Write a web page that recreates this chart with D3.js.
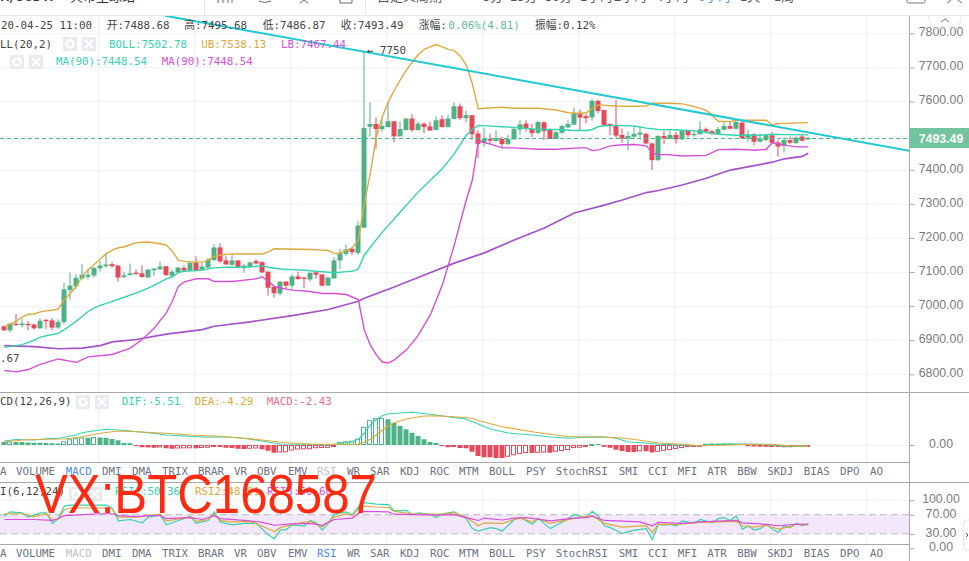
<!DOCTYPE html>
<html>
<head>
<meta charset="utf-8">
<script src="https://cdn.jsdelivr.net/npm/d3@7"></script>
<style>
  html, body { margin: 0; padding: 0; background: #fff; overflow: hidden; }
  svg { display: block; }
  .mono { font-family: "DejaVu Sans Mono", monospace, "Noto Sans CJK SC"; font-size: 10.8px; }
  .axis text { font-family: "Liberation Sans", Arial, sans-serif; font-size: 12.3px; fill: #7b7b7b; }
  .axis path, .axis line { stroke: #a8a8a8; }
</style>
</head>
<body>
<svg id="chart" width="969" height="561"></svg>
<script>
// ###################################
//  Data
// ###################################

var opens = [
  6941,6929,6948,6944,6948,6946,6935,6960,6958,6937,
  6953,7047,7058,7081,7086,7090,7111,7117,7123,7119,
  7085,7091,7098,7096,7084,7105,7108,7117,7089,7099,
  7112,7104,7127,7105,7113,7135,7172,7134,7121,7134,
  7111,7115,7132,7129,7101,7056,7037,7072,7060,7087,
  7084,7078,7099,7093,7060,7081,7134,7153,7168,7156,
  7230,7526,7534,7519,7525,7542,7498,7516,7550,7516,
  7535,7527,7516,7548,7525,7549,7586,7551,7560,7506,
  7479,7490,7484,7490,7475,7489,7518,7535,7520,7508,
  7539,7518,7490,7508,7524,7532,7563,7557,7553,7602,
  7575,7534,7528,7502,7492,7497,7503,7505,7477,7428,
  7499,7491,7502,7489,7514,7501,7504,7519,7513,7505,
  7517,7528,7520,7538,7492,7504,7482,7487,7501,7480,
  7470,7487,7478,7497,7488.68
];
var closes = [
  6929,6949,6944,6949,6944,6935,6957,6956,6937,6954,
  7049,7060,7083,7092,7092,7112,7119,7122,7117,7084,
  7090,7096,7094,7085,7107,7110,7116,7091,7101,7113,
  7104,7127,7104,7116,7136,7172,7131,7122,7134,7113,
  7119,7128,7125,7099,7054,7038,7072,7060,7087,7079,
  7080,7098,7092,7060,7084,7134,7155,7166,7158,7236,
  7522,7534,7519,7528,7542,7498,7519,7550,7516,7535,
  7525,7515,7545,7525,7550,7586,7551,7560,7504,7475,
  7490,7485,7492,7475,7490,7520,7533,7521,7507,7540,
  7513,7490,7510,7528,7534,7565,7553,7551,7602,7572,
  7531,7528,7500,7492,7499,7505,7509,7477,7428,7499,
  7492,7502,7489,7514,7501,7505,7518,7512,7506,7519,
  7528,7520,7540,7492,7504,7482,7492,7501,7479,7468,
  7487,7479,7494,7485,7493.49
];
var highs = [
  6943,6949,6977,6963,6956,6949,6964,6961,6965,6961,
  7068,7099,7093,7123,7109,7114,7132,7156,7129,7119,
  7101,7125,7107,7120,7109,7111,7131,7117,7107,7115,
  7119,7129,7146,7127,7141,7182,7184,7146,7151,7135,
  7123,7131,7137,7131,7102,7058,7073,7072,7093,7101,
  7085,7098,7101,7093,7086,7144,7168,7181,7172,7249,
  7750,7598,7553,7547,7598,7542,7541,7550,7563,7541,
  7538,7541,7557,7559,7560,7598,7594,7573,7560,7516,
  7524,7506,7516,7496,7502,7524,7545,7545,7535,7542,
  7542,7521,7514,7531,7545,7582,7577,7563,7607,7605,
  7575,7536,7604,7521,7512,7526,7526,7509,7479,7501,
  7514,7518,7512,7516,7515,7513,7542,7524,7516,7526,
  7541,7541,7544,7542,7518,7507,7507,7505,7511,7487,
  7495,7497,7497,7502,7495.68
];
var lows = [
  6927,6923,6943,6939,6929,6931,6933,6933,6929,6933,
  6946,7019,7051,7078,7078,7084,7101,7113,7113,7072,
  7082,7090,7092,7084,7082,7088,7107,7088,7088,7096,
  7101,7102,7102,7103,7111,7133,7127,7122,7119,7111,
  7098,7112,7122,7096,7031,7025,7031,7053,7049,7078,
  7053,7072,7080,7058,7060,7081,7109,7148,7150,7151,
  7228,7498,7462,7511,7524,7481,7498,7516,7511,7516,
  7508,7514,7516,7524,7524,7548,7545,7539,7487,7434,
  7467,7472,7484,7463,7473,7489,7502,7512,7496,7504,
  7487,7490,7490,7506,7521,7532,7516,7536,7544,7565,
  7528,7501,7493,7479,7456,7489,7489,7475,7399,7426,
  7475,7489,7477,7487,7495,7497,7503,7509,7502,7503,
  7515,7518,7518,7491,7482,7471,7481,7483,7477,7438,
  7450,7475,7475,7483,7486.87
];

// [candle index, value]
var bollUpper = [[0,6939],[2,6956],[3,6968],[4,6976],[5,6977],[6,6983],[7,6986],[8,6988],[9,6992],[10,7019],[11,7037],[12,7058],[13,7088],[14,7107],[15,7122],[16,7139],[17,7154],[18,7164],[19,7171],[20,7174],[21,7180],[22,7186],[24,7188],[26,7183],[27,7179],[28,7161],[29,7135],[30,7131],[32,7129],[33,7129],[34,7135],[35,7146],[36,7150],[38,7153],[43,7153],[44,7159],[45,7168],[51,7166],[53,7164],[54,7163],[55,7154],[56,7156],[57,7164],[58,7171],[59,7193],[60,7300],[61,7390],[62,7496],[63,7555],[64,7599],[65,7633],[66,7663],[67,7692],[68,7716],[69,7738],[70,7753],[71,7760],[72,7767],[73,7760],[74,7753],[75,7749],[76,7733],[77,7707],[78,7653],[79,7578],[80,7580],[83,7583],[85,7580],[89,7580],[92,7575],[94,7567],[96,7565],[97,7567],[98,7580],[99,7590],[102,7587],[105,7586],[107,7587],[108,7595],[111,7595],[113,7593],[115,7585],[116,7580],[117,7574],[118,7560],[119,7542],[121,7541],[122,7545],[127,7545],[128,7531],[129,7535],[134,7538]];
var bollMid = [[0,6879],[3,6887],[5,6900],[6,6909],[7,6913],[9,6920],[10,6931],[11,6943],[12,6956],[13,6970],[14,6985],[15,6995],[16,7002],[18,7014],[20,7026],[22,7039],[24,7053],[26,7070],[27,7080],[28,7086],[29,7098],[30,7102],[32,7104],[34,7109],[35,7112],[37,7114],[40,7114],[43,7118],[44,7114],[46,7109],[48,7107],[50,7105],[52,7102],[55,7098],[57,7101],[58,7102],[59,7109],[60,7150],[63,7217],[66,7276],[69,7335],[71,7369],[73,7403],[75,7447],[77,7501],[78,7518],[79,7530],[83,7526],[85,7524],[89,7518],[92,7518],[95,7515],[97,7515],[98,7518],[99,7526],[100,7529],[102,7530],[105,7528],[107,7522],[109,7518],[112,7517],[115,7514],[117,7509],[119,7504],[122,7501],[126,7501],[128,7504],[130,7503],[134,7502]];
var bollLower = [[0,6811],[2,6807],[4,6814],[6,6829],[9,6845],[12,6835],[14,6851],[18,6858],[21,6877],[23,6902],[25,6936],[27,6980],[28,7014],[29,7058],[30,7071],[32,7080],[34,7080],[35,7072],[38,7072],[42,7080],[43,7086],[45,7058],[46,7053],[48,7047],[51,7043],[53,7037],[55,7037],[57,7034],[59,7019],[60,6930],[61,6886],[62,6857],[63,6836],[64,6833],[65,6842],[66,6857],[67,6871],[68,6892],[69,6915],[70,6945],[71,6974],[72,7018],[73,7062],[74,7120],[75,7179],[76,7246],[77,7311],[78,7369],[79,7484],[81,7475],[83,7464],[85,7464],[89,7460],[92,7460],[96,7464],[97,7464],[98,7456],[99,7458],[101,7470],[103,7473],[105,7474],[107,7470],[108,7450],[109,7443],[110,7445],[113,7440],[117,7442],[119,7459],[122,7460],[125,7457],[127,7460],[128,7479],[130,7472],[132,7467],[134,7467]];
var ma90 = [[0,6884],[5,6881],[9,6875],[13,6877],[16,6884],[18,6895],[22,6902],[27,6918],[33,6931],[35,6941],[41,6954],[48,6972],[54,6990],[59,7014],[60,7023],[65,7056],[70,7091],[75,7126],[80,7156],[85,7194],[90,7229],[95,7273],[100,7296],[103,7311],[107,7333],[109,7339],[113,7355],[117,7375],[121,7399],[125,7412],[128,7422],[130,7432],[133,7439],[134,7448]];
var trendLine = [[26.78,7851.6],[150.8,7455.7]];

var macdHist = [
  12,14,12,12,10,9,9,8,7,6,
  15,23,27,30,29,32,30,29,24,19,
  8,7,-3,-9,-9.5,-11,-10,-13,-15,-14,
  -13.5,-13,-13.2,-12,-11,-8,-8,-11,-12,-15,
  -16,-15,-14,-17,-23,-31,-30,-29,-22,-18,
  -17.5,-17,-13,-12,-11.5,-1,12,15,17,25,
  73,99,107,108,103,89,76,63,49,36,
  23,12,8,-4,-9,-8,-12,-13,-27,-44,
  -49,-49,-52,-52,-47,-41,-36,-32,-32,-31,
  -30,-31,-27,-24,-20,-12,-11,-7,3,3,
  -7,-11,-19,-24,-28,-28,-25,-25,-30,-27,
  -23,-20,-16,-12,-8,-7,-4,5,6,6,
  6,6,5,4,-5,-6,-7,-7,-5,-8,
  -9,-9,-4,-3,-2.43
];
var macdDif = [[0,16],[2,22],[5,20],[7,25],[9,27],[10,31],[11,36],[12,41],[13,49],[14,53],[15,57],[16,60],[17,63],[19,60],[21,56],[24,49],[27,40],[30,36],[34,31],[36,33],[40,27],[43,16],[46,4],[50,3],[54,0],[56,5],[58,13],[59,23],[60,47],[61,80],[62,103],[63,117],[64,125],[66,128],[68,131],[71,123],[74,113],[77,103],[79,84],[81,64],[84,48],[88,40],[91,32],[94,27],[97,31],[100,32],[102,27],[104,12],[107,8],[109,3],[113,0],[116,-3],[120,4],[124,4],[127,1],[130,-5],[134,-5.51]];
var macdDea = [[0,13],[3,20],[7,23],[10,24],[13,33],[16,47],[19,56],[22,53],[27,47],[31,40],[35,36],[39,29],[43,20],[47,9],[51,3],[56,3],[59,4],[60,11],[61,23],[62,40],[63,60],[64,76],[65,89],[67,104],[70,116],[72,117],[75,113],[78,107],[79,98],[83,73],[88,53],[91,43],[94,33],[99,33],[103,28],[106,19],[109,8],[113,3],[116,-3],[120,-1],[124,3],[128,3],[131,-4],[134,-4.29]];

var rsi1 = [[0,67],[1,76],[3,74],[4,65],[6,74],[7,74],[8,52],[9,62],[10,88],[11,90],[14,90],[17,90],[18,83],[19,57],[21,60],[23,53],[24,65],[26,69],[27,49],[30,62],[31,67],[32,52],[34,58],[35,76],[36,55],[38,49],[40,52],[42,52],[44,28],[45,20],[46,38],[47,39],[48,49],[50,46],[51,58],[52,53],[53,38],[54,52],[55,71],[57,76],[58,70],[59,86],[60,95],[62,92],[64,91],[65,78],[67,79],[68,70],[69,74],[71,71],[72,64],[73,72],[75,76],[77,62],[78,41],[79,36],[81,43],[82,41],[83,36],[85,60],[86,64],[88,50],[89,62],[91,41],[93,55],[95,70],[97,64],[98,77],[99,67],[100,47],[101,43],[103,31],[105,38],[107,41],[108,18],[109,50],[110,48],[111,50],[112,47],[113,57],[115,52],[116,60],[118,53],[119,62],[120,64],[121,58],[122,68],[123,40],[124,46],[125,38],[126,41],[127,50],[128,40],[129,33],[130,47],[131,43],[132,52],[133,47],[134,50.36]];
var rsi2 = [[0,72],[3,72],[5,66],[7,72],[8,59],[9,60],[10,80],[11,84],[14,84],[17,84],[18,82],[19,65],[22,65],[24,68],[26,71],[27,57],[30,63],[31,66],[32,56],[34,60],[35,72],[36,58],[38,55],[41,56],[43,46],[45,35],[46,43],[48,50],[51,56],[53,45],[55,65],[57,72],[58,68],[59,82],[60,88],[62,86],[64,85],[65,77],[68,72],[71,71],[73,71],[75,74],[77,65],[79,47],[80,53],[83,52],[85,60],[86,63],[88,55],[89,62],[91,52],[93,57],[96,65],[98,68],[100,52],[103,44],[107,47],[108,33],[109,50],[112,50],[116,54],[122,56],[123,47],[125,44],[127,48],[129,40],[131,45],[132,50],[134,48.91]];
var rsi3 = [[0,60],[5,60],[8,58],[9,62],[10,68],[13,70],[16,72],[18,72],[19,68],[22,66],[24,68],[26,68],[27,62],[31,64],[33,60],[35,68],[36,62],[40,58],[43,54],[45,48],[48,51],[51,52],[53,48],[55,60],[58,63],[59,72],[60,77],[64,76],[65,71],[68,70],[72,69],[75,70],[77,64],[79,58],[80,63],[83,59],[85,63],[87,64],[91,57],[95,63],[97,64],[98,67],[100,58],[102,57],[106,55],[108,47],[109,54],[113,52],[116,55],[122,58],[123,53],[127,50],[129,47],[132,50],[134,50.6]];

var priceTicks = [7800,7700,7600,7500,7400,7300,7200,7100,7000,6900,6800];
var macdTicks = [0];
var rsiTicks = [100,70,30,0];
var gridCandles = [16,32,48,64,80,96,112,128,144];
var lastPrice = 7493.49;

var tabNames = ["A","VOLUME","MACD","DMI","DMA","TRIX","BRAR","VR","OBV","EMV","RSI","WR","SAR","KDJ","ROC","MTM","BOLL","PSY","StochRSI","SMI","CCI","MFI","ATR","BBW","SKDJ","BIAS","DPO","AO"];
var tabLefts = [0,16,65.7,102,132,162,198,234,257,288,317,347,370,400,430,459,489,526,555.7,618.7,648,677.7,707.3,737.3,767.3,803.7,840,870];

// ###################################
//  Colors
// ###################################

var UP = "#4fb286", DOWN = "#e5495a";
var TEAL = "#34d3b0", GOLD = "#dcaa3c", PINK = "#d64fd8", PURPLE = "#a352c8", CYAN = "#22c9cf";
var BORDER = "#a8a8a8", GRID = "#f0f3f8";

// ###################################
//  Scales
// ###################################

var svg = d3.select("#chart");
var x = d3.scaleLinear().domain([0, 134]).range([4.3, 808.3]);
var yPrice = d3.scaleLinear().domain([7800, 6800]).range([33.3, 374.3]);
var yMacd = d3.scaleLinear().domain([0, 100]).range([445, 420]);
var yRsi = d3.scaleLinear().domain([100, 0]).range([500.3, 548.3]);

function clip(id, top, bottom) {
  svg.append("clipPath").attr("id", id).append("rect")
    .attr("x", 0).attr("y", top).attr("width", 909).attr("height", bottom - top);
}
clip("clipMain", 16, 392);
clip("clipMacd", 392, 462);
clip("clipRsi", 483, 544);

function drawLine(parent, points, yScale, color, width) {
  var line = d3.line().x(function(d) { return x(d[0]); }).y(function(d) { return yScale(d[1]); });
  parent.append("path").attr("d", line(points)).attr("fill", "none")
    .attr("stroke", color).attr("stroke-width", width || 1.4);
}

// ###################################
//  Grid
// ###################################

var grid = svg.append("g");
[[16, 392], [392, 462], [483, 544]].forEach(function(band) {
  grid.selectAll(null).data(gridCandles).enter().append("line")
    .attr("x1", function(d) { return Math.round(x(d)) - 1.5; })
    .attr("x2", function(d) { return Math.round(x(d)) - 1.5; })
    .attr("y1", band[0]).attr("y2", band[1]).attr("stroke", GRID);
});
function hGrid(ticks, scale) {
  grid.selectAll(null).data(ticks).enter().append("line")
    .attr("x1", 0).attr("x2", 909)
    .attr("y1", function(d) { return Math.round(scale(d)) + 0.5; })
    .attr("y2", function(d) { return Math.round(scale(d)) + 0.5; })
    .attr("stroke", GRID);
}
hGrid(priceTicks, yPrice);
hGrid(macdTicks, yMacd);
hGrid([100], yRsi);

// ###################################
//  Main panel
// ###################################

var main = svg.append("g").attr("clip-path", "url(#clipMain)");

var candles = main.selectAll("g.candle").data(opens).enter().append("g")
  .attr("fill", function(d, i) { return closes[i] >= d ? UP : DOWN; });
candles.append("rect")
  .attr("x", function(d, i) { return Math.round(x(i)) - 0.5; })
  .attr("width", 1)
  .attr("y", function(d, i) { return yPrice(highs[i]); })
  .attr("height", function(d, i) { return yPrice(lows[i]) - yPrice(highs[i]); });
candles.append("rect")
  .attr("x", function(d, i) { return Math.round(x(i)) - 2.5; })
  .attr("width", 5)
  .attr("y", function(d, i) { return yPrice(Math.max(d, closes[i])); })
  .attr("height", function(d, i) { return Math.max(1, Math.abs(yPrice(d) - yPrice(closes[i]))); });

drawLine(main, ma90, yPrice, PURPLE, 1.7);
drawLine(main, bollUpper, yPrice, GOLD);
drawLine(main, bollMid, yPrice, TEAL);
drawLine(main, bollLower, yPrice, PINK);

main.append("line").attr("x1", 0).attr("x2", 909)
  .attr("y1", Math.round(yPrice(lastPrice)) + 0.5).attr("y2", Math.round(yPrice(lastPrice)) + 0.5)
  .attr("stroke", "#3ab98a").attr("stroke-dasharray", "4,3");

// ###################################
//  MACD panel
// ###################################

var macd = svg.append("g").attr("clip-path", "url(#clipMacd)");
macd.selectAll("rect").data(macdHist).enter().append("rect")
  .each(function(d, i) {
    var color = d >= 0 ? UP : DOWN;
    var hollow = i > 0 && d > macdHist[i - 1];
    var h = Math.max(1, Math.abs(yMacd(d) - yMacd(0)));
    d3.select(this)
      .attr("x", Math.round(x(i)) - 2.5)
      .attr("width", hollow ? 4 : 5)
      .attr("y", (d >= 0 ? yMacd(0) - h : yMacd(0)) + (hollow ? 0.5 : 0))
      .attr("height", hollow ? Math.max(h - 1, 1) : h)
      .attr("fill", hollow ? "#fff" : color)
      .attr("stroke", hollow ? color : "none");
  });
drawLine(macd, macdDif, yMacd, TEAL, 1.2);
drawLine(macd, macdDea, yMacd, GOLD, 1.2);

// ###################################
//  RSI panel
// ###################################

var rsi = svg.append("g").attr("clip-path", "url(#clipRsi)");
rsi.append("rect").attr("x", 0).attr("width", 909)
  .attr("y", yRsi(70)).attr("height", yRsi(30) - yRsi(70)).attr("fill", "#f3e7fc");
[70, 30].forEach(function(level) {
  rsi.append("line").attr("x1", 0).attr("x2", 909)
    .attr("y1", yRsi(level)).attr("y2", yRsi(level))
    .attr("stroke", "#c9c5cc").attr("stroke-width", 1.2).attr("stroke-dasharray", "7,4");
});
drawLine(rsi, rsi1, yRsi, TEAL, 1.2);
drawLine(rsi, rsi2, yRsi, GOLD, 1.2);
drawLine(rsi, rsi3, yRsi, PINK, 1.2);

// ###################################
//  Frame and axes
// ###################################

[[392.5, 969], [462.5, 909], [482.5, 969], [544.5, 909]].forEach(function(row) {
  svg.append("line").attr("x1", 0).attr("x2", row[1]).attr("y1", row[0]).attr("y2", row[0])
    .attr("stroke", BORDER);
});
svg.append("line").attr("x1", 909.5).attr("x2", 909.5).attr("y1", 16).attr("y2", 561).attr("stroke", BORDER);

function drawAxis(scale, ticks) {
  var g = svg.append("g").attr("class", "axis").attr("transform", "translate(909.5,0)")
    .call(d3.axisRight(scale).tickValues(ticks).tickSize(5).tickFormat(d3.format(".2f")));
  g.select(".domain").remove();
  g.selectAll("text").attr("x", 31.5).attr("y", -1.5).attr("text-anchor", "middle");
}
drawAxis(yPrice, priceTicks);
drawAxis(yMacd, macdTicks);
drawAxis(yRsi, rsiTicks);

svg.append("rect").attr("x", 909).attr("y", 128).attr("width", 60).attr("height", 20).attr("fill", "#71c49e");
svg.append("text").attr("x", 941).attr("y", 142.5).attr("text-anchor", "middle")
  .attr("font-family", "Liberation Sans, Arial, sans-serif").attr("font-size", 12.3).attr("font-weight", "bold")
  .attr("fill", "#fff").text(lastPrice.toFixed(2));

// scroll handles on the price axis and the RSI panel
svg.append("path").attr("d", "M928,16 L931,26 Q931.5,27 933,27 L957,27 Q958.5,27 959,26 L962,16")
  .attr("fill", "#fff").attr("stroke", "#e6e6e6");
svg.append("path").attr("d", "M941,22 L945,19 L949,22").attr("fill", "none").attr("stroke", "#777");
svg.append("rect").attr("x", 963.5).attr("y", 520).attr("width", 12).attr("height", 30).attr("rx", 4)
  .attr("fill", "#fff").attr("stroke", "#e6e6e6");
svg.append("path").attr("d", "M966,533 L968,535 L966,537").attr("fill", "none").attr("stroke", "#555");

// ###################################
//  Texts
// ###################################

function label(left, base, str, color) {
  return svg.append("text").attr("class", "mono").attr("x", left).attr("y", base)
    .attr("fill", color || "#444").text(str);
}

function iconPair(left1, left2, top) {
  var s = 14;
  svg.append("rect").attr("x", left1).attr("y", top).attr("width", s).attr("height", s).attr("fill", "#e9ebf0");
  svg.append("circle").attr("cx", left1 + 7).attr("cy", top + 7).attr("r", 3.6)
    .attr("fill", "none").attr("stroke", "#fff").attr("stroke-width", 2.4);
  svg.append("rect").attr("x", left2).attr("y", top).attr("width", s).attr("height", s).attr("fill", "#e9ebf0");
  svg.append("path").attr("d", "M" + (left2 + 3) + "," + (top + 3) + " l8,8 m0,-8 l-8,8")
    .attr("stroke", "#fff").attr("stroke-width", 1.8);
}

label(1, 29, "20-04-25 11:00");
label(106.7, 29, "开:7488.68");
label(184.3, 29, "高:7495.68");
label(262.7, 29, "低:7486.87");
label(340.7, 29, "收:7493.49");
label(418.7, 29, "涨幅:");
label(448.3, 29, "0.06%(4.81)", "#5dbb92");
label(535, 29, "振幅:0.12%");

label(0, 47.5, "LL(20,2)");
iconPair(63, 82, 37);
label(109, 47.5, "BOLL:7502.78", TEAL);
label(201.3, 47.5, "UB:7538.13", GOLD);
label(281, 47.5, "LB:7467.44", PINK);

iconPair(10, 29, 55);
label(56, 65, "MA(90):7448.54", TEAL);
label(161.7, 65, "MA(90):7448.54", PINK);

label(367, 54, "← 7750").attr("font-size", 11);
label(0, 362, ".67");

label(0, 405, "CD(12,26,9)");
iconPair(76, 95, 395);
label(121.7, 405, "DIF:-5.51", TEAL);
label(194.7, 405, "DEA:-4.29", GOLD);
label(266.7, 405, "MACD:-2.43", "#e8707e");

label(0, 495, "I(6,12,24)");
iconPair(69, 88, 487);
label(115, 495, "RSI1:50.36", TEAL);
label(195, 495, "RSI2:48.91", GOLD);
label(267, 495, "RSI3:50.60", PINK);

function tabRow(base, activeName, dimName) {
  tabNames.forEach(function(name, i) {
    var color = name === activeName ? "#4a90e8" : name === dimName ? "#c2c2c2" : "#6b7280";
    label(tabLefts[i], base, name, color);
  });
}
tabRow(475, "MACD", "RSI");
tabRow(556.5, "RSI", "MACD");

// top toolbar, cut off by the edge of the picture
svg.append("line").attr("x1", 0).attr("x2", 969).attr("y1", 15.5).attr("y2", 15.5).attr("stroke", "#e4e6ea");
[204.5, 365.5].forEach(function(left) {
  svg.append("line").attr("x1", left).attr("x2", left).attr("y1", 0).attr("y2", 15).attr("stroke", "#e4e6ea");
});
var topLabels = [[0, "H/USDT:", "#333", "bold"], [70, "火币全球站", "#333", "normal"], [377, "自定义周期", "#555", "normal"], [483, "5分", "#555", "normal"], [510, "15分", "#555", "normal"], [545, "30分", "#555", "normal"], [580, "1小时", "#555", "normal"], [614, "2小时", "#555", "normal"], [656, "4小时", "#555", "normal"], [698, "6小时", "#4a90e8", "normal"], [740, "1天", "#555", "normal"], [774, "1周", "#555", "normal"]];
topLabels.forEach(function(d) {
  svg.append("text").attr("x", d[0]).attr("y", 1.2).attr("fill", d[2]).attr("font-weight", d[3])
    .attr("font-family", "Noto Sans CJK SC, sans-serif").attr("font-size", 13).text(d[1]);
});
// bottoms of the toolbar icons
svg.append("path").attr("d", "M218,0 V3 M223,0 V3 M228,0 V3 M232,0 V3 M259,1 Q264,4 271,1 M300,3 L304,0 L308,3 M340,3 H352 M340,0 V3 M352,0 V3")
  .attr("fill", "none").attr("stroke", "#666");
svg.append("rect").attr("x", 907).attr("y", -6).attr("width", 18).attr("height", 9).attr("rx", 1.5)
  .attr("fill", "none").attr("stroke", "#777");
svg.append("path").attr("d", "M947,3 L951,0 M962,3 L958,0").attr("stroke", "#777");

// trend line drawn by hand over the chart, then the watermark
drawLine(main, trendLine, yPrice, CYAN, 2);

svg.append("text").attr("x", 35).attr("y", 513)
  .attr("font-family", "Liberation Sans, Arial, sans-serif").attr("font-size", 56)
  .attr("textLength", 342).attr("lengthAdjust", "spacingAndGlyphs")
  .attr("fill", "#ff2a12").text("VX:BTC168587");
</script>
</body>
</html>
